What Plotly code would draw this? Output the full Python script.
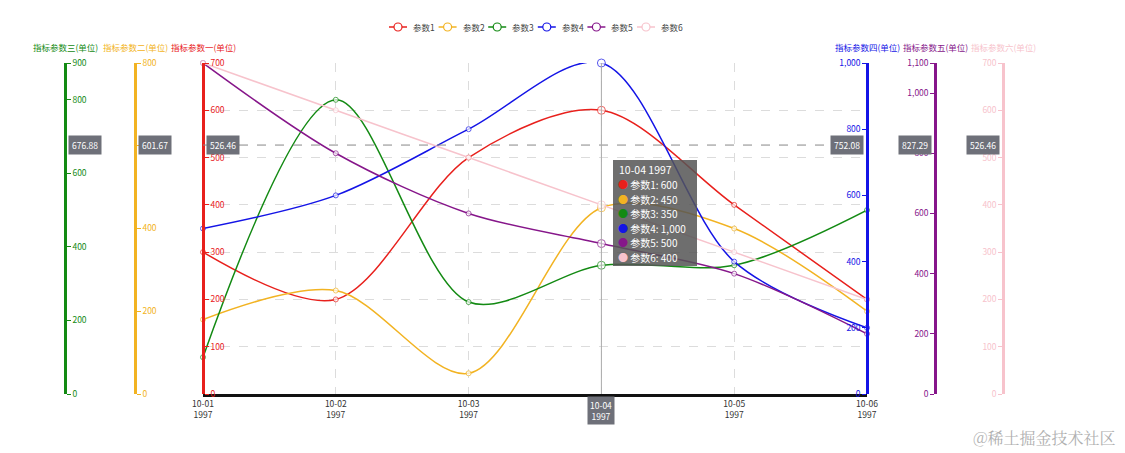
import plotly.graph_objects as go

# ---------------- data ----------------
dates = ["10-01", "10-02", "10-03", "10-04", "10-05", "10-06"]
years = ["1997", "1997", "1997", "1997", "1997", "1997"]

names = ["参数1", "参数2", "参数3", "参数4", "参数5", "参数6"]
s1 = [300, 200, 500, 600, 400, 200]
s2 = [180, 250, 50, 450, 400, 200]
s3 = [100, 800, 250, 350, 350, 500]
s4 = [500, 600, 800, 1000, 400, 200]
s5 = [1100, 800, 600, 500, 400, 200]
s6 = [700, 600, 500, 400, 300, 200]
series = [s1, s2, s3, s4, s5, s6]

axis_titles = ["指标参数一(单位)", "指标参数二(单位)", "指标参数三(单位)",
               "指标参数四(单位)", "指标参数五(单位)", "指标参数六(单位)"]
axis_max = [700, 800, 900, 1000, 1100, 700]
axis_ticks = [
    [0, 100, 200, 300, 400, 500, 600, 700],
    [0, 200, 400, 600, 800],
    [0, 200, 400, 600, 800, 900],
    [0, 200, 400, 600, 800, 1000],
    [0, 200, 400, 600, 800, 1000, 1100],
    [0, 100, 200, 300, 400, 500, 600, 700],
]
pointer_labels = ["526.46", "601.67", "676.88", "752.08", "827.29", "526.46"]
pointer_value_axis1 = 526.46
hover_index = 3

colors = ["#e8201c", "#f2b322", "#138a13", "#1414e6", "#86168a", "#f7c3cc"]

# ---------------- layout geometry ----------------
W, H = 1125, 453
top, bottom = 63, 394
axis_px = [203, 135, 65, 867, 935, 1003]   # red, orange, green, blue, purple, pink
FONT = "Noto Sans CJK SC, Microsoft YaHei, sans-serif"


def px(x):
    return x / W


def py(y):
    return (bottom - y) / (bottom - top)


fig = go.Figure()
yrefs = ["y", "y2", "y3", "y4", "y5", "y6"]
for i, (nm, vals) in enumerate(zip(names, series)):
    sizes = [5] * len(vals)
    sizes[hover_index] = 8
    fig.add_trace(go.Scatter(
        x=dates, y=vals, name=nm, yaxis=yrefs[i],
        mode="lines+markers",
        line=dict(color=colors[i], width=1.5, shape="spline", smoothing=0.9),
        marker=dict(symbol="circle", size=sizes, color="white",
                    line=dict(color=colors[i], width=1)),
        cliponaxis=False, showlegend=False,
    ))

common_tick = dict(showgrid=False, zeroline=False, showline=True, linewidth=2.5,
                   ticks="outside", ticklen=4, fixedrange=True)

layout = dict(
    width=W, height=H,
    margin=dict(l=0, r=0, t=top, b=H - bottom, pad=0, autoexpand=False),
    paper_bgcolor="white", plot_bgcolor="white",
    font=dict(family=FONT, size=9, color="#333"),
    showlegend=False,
    xaxis=dict(domain=[px(203), px(867)], type="category", range=[0, 5],
               tickvals=dates, ticktext=[f"{d}<br>{y}" for d, y in zip(dates, years)],
               showgrid=True, gridcolor="#dcdcdc", griddash="dash", gridwidth=1,
               showline=True, linecolor="#111", linewidth=2.5, zeroline=False,
               ticks="", tickfont=dict(size=8.5, color="#333"), automargin=False),
)

for i in range(6):
    key = "yaxis" if i == 0 else f"yaxis{i + 1}"
    ax = dict(common_tick)
    ax.update(range=[0, axis_max[i]], tickvals=axis_ticks[i],
              linecolor=colors[i], tickcolor=colors[i],
              tickfont=dict(size=8.5, color=colors[i]),
              separatethousands=True, tickformat=",d", automargin=False,
              anchor="free", position=px(axis_px[i]),
              side="right" if axis_px[i] <= 203 else "left")
    if i == 0:
        ax.update(showgrid=True, gridcolor="#dcdcdc", griddash="dash", gridwidth=1)
    else:
        ax.update(overlaying="y")
    layout[key] = ax

fig.update_layout(**layout)

shapes = []
annotations = []

# legend (drawn manually to match compact spacing)
for i in range(6):
    cx = 398 + i * 49.6
    cy = 27
    shapes.append(dict(type="line", xref="paper", yref="paper",
                       x0=px(cx - 9), x1=px(cx + 9), y0=py(cy), y1=py(cy),
                       line=dict(color=colors[i], width=1.5)))
    shapes.append(dict(type="circle", xref="paper", yref="paper",
                       x0=px(cx - 4), x1=px(cx + 4), y0=py(cy + 4), y1=py(cy - 4),
                       fillcolor="white", line=dict(color=colors[i], width=1.2)))
    annotations.append(dict(xref="paper", yref="paper", x=px(cx + 13), y=py(cy),
                            text=names[i], showarrow=False, xanchor="left",
                            yanchor="middle", font=dict(size=8.5, color="#444")))

# axis titles
for i in range(6):
    annotations.append(dict(xref="paper", yref="paper", x=px(axis_px[i]), y=py(47),
                            text=axis_titles[i], showarrow=False, xanchor="center",
                            yanchor="middle", font=dict(size=8.5, color=colors[i])))

# crosshair (axis pointer)
shapes.append(dict(type="line", xref="paper", yref="y", x0=px(203), x1=px(867),
                   y0=pointer_value_axis1, y1=pointer_value_axis1,
                   line=dict(color="#888", width=1, dash="dash")))
shapes.append(dict(type="line", xref="x", yref="paper", x0=dates[hover_index],
                   x1=dates[hover_index], y0=0, y1=1,
                   line=dict(color="#aaa", width=1)))

for i in range(6):
    left_side = axis_px[i] <= 203
    annotations.append(dict(xref="paper", yref="y", x=px(axis_px[i] + (3 if left_side else -3)),
                            y=pointer_value_axis1, text=pointer_labels[i], showarrow=False,
                            xanchor="left" if left_side else "right", yanchor="middle",
                            bgcolor="#6E7079", borderpad=3,
                            font=dict(size=8.5, color="white")))

annotations.append(dict(xref="x", yref="paper", x=dates[hover_index], y=0, yshift=-2,
                        text=f"{dates[hover_index]}<br>{years[hover_index]}",
                        showarrow=False, xanchor="center", yanchor="top",
                        bgcolor="#6E7079", borderpad=2,
                        font=dict(size=8.5, color="white")))

# tooltip
shapes.append(dict(type="rect", xref="paper", yref="paper", x0=px(613), x1=px(697),
                   y0=py(266), y1=py(160), fillcolor="rgba(85,85,85,0.85)",
                   line=dict(width=0), layer="above"))
annotations.append(dict(xref="paper", yref="paper", x=px(617), y=py(169),
                        text=f"{dates[hover_index]} {years[hover_index]}", showarrow=False,
                        xanchor="left", yanchor="middle",
                        font=dict(size=10.5, color="white")))
row_y = [184, 199, 213, 228, 242, 257]
for i in range(6):
    v = series[i][hover_index]
    annotations.append(dict(xref="paper", yref="paper", x=px(616), y=py(row_y[i]),
                            text=f"<span style='color:{colors[i]}'>●</span> {names[i]}: {v:,}",
                            showarrow=False, xanchor="left", yanchor="middle",
                            font=dict(size=10, color="white")))

# watermark
annotations.append(dict(xref="paper", yref="paper", x=px(1118), y=py(437),
                        text="@稀土掘金技术社区", showarrow=False, xanchor="right",
                        yanchor="middle", font=dict(size=16, color="#b0b0b0",
                                                    family="Noto Serif CJK SC, Noto Sans CJK SC")))

fig.update_layout(shapes=shapes, annotations=annotations)

fig.write_html("out.html", include_plotlyjs=True, full_html=True,
               config={"displayModeBar": False},
               post_script="document.body.style.margin='0px';document.body.style.overflow='hidden';")
